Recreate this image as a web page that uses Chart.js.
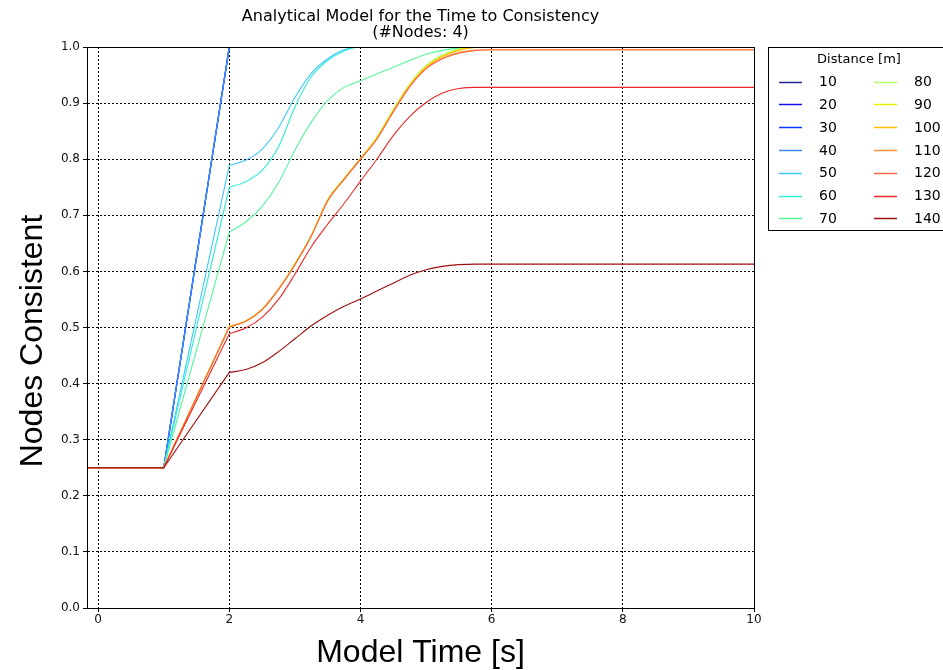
<!DOCTYPE html>
<html>
<head>
<meta charset="utf-8">
<script src="https://cdn.jsdelivr.net/npm/chart.js@4/dist/chart.umd.min.js"></script>
<style>
  html, body { margin: 0; padding: 0; background: #fff; }
  #wrap { width: 943px; height: 670px; }
</style>
</head>
<body>
<div id="wrap"><canvas id="myChart" width="943" height="670"></canvas></div>
<script>
'use strict';

// model time samples [s]
const times = [-0.2, 1, 2, 2.25, 2.5, 2.75, 3, 3.25, 3.5, 3.75, 4, 4.25, 4.5, 4.75, 5, 5.25, 5.5, 5.75, 6, 10];

// distance labels [m]
const distances = ['10', '20', '30', '40', '50', '60', '70', '80', '90', '100', '110', '120', '130', '140'];

// fraction of nodes consistent, one array per distance
const d10 = [0.25, 0.25, 1, 1, 1, 1, 1, 1, 1, 1, 1, 1, 1, 1, 1, 1, 1, 1, 1, 1];
const d20 = [0.25, 0.25, 1, 1, 1, 1, 1, 1, 1, 1, 1, 1, 1, 1, 1, 1, 1, 1, 1, 1];
const d30 = [0.25, 0.25, 1, 1, 1, 1, 1, 1, 1, 1, 1, 1, 1, 1, 1, 1, 1, 1, 1, 1];
const d40 = [0.25, 0.25, 1, 1, 1, 1, 1, 1, 1, 1, 1, 1, 1, 1, 1, 1, 1, 1, 1, 1];
const d50 = [0.25, 0.25, 0.789, 0.798, 0.818, 0.856, 0.910, 0.953, 0.979, 0.995, 1, 1, 1, 1, 1, 1, 1, 1, 1, 1];
const d60 = [0.25, 0.25, 0.750, 0.760, 0.780, 0.822, 0.893, 0.947, 0.976, 0.993, 1, 1, 1, 1, 1, 1, 1, 1, 1, 1];
const d70 = [0.25, 0.25, 0.670, 0.688, 0.716, 0.758, 0.816, 0.866, 0.905, 0.928, 0.940, 0.952, 0.964, 0.976, 0.987, 0.994, 0.998, 1, 1, 1];
const d80 = [0.25, 0.25, 0.502, 0.512, 0.533, 0.569, 0.614, 0.665, 0.728, 0.766, 0.802, 0.840, 0.889, 0.934, 0.967, 0.986, 0.997, 1, 1, 1];
const d90 = [0.25, 0.25, 0.502, 0.511, 0.532, 0.568, 0.613, 0.664, 0.727, 0.765, 0.801, 0.838, 0.887, 0.932, 0.965, 0.984, 0.995, 1, 1, 1];
const d100 = [0.25, 0.25, 0.502, 0.511, 0.532, 0.568, 0.612, 0.663, 0.726, 0.764, 0.800, 0.837, 0.886, 0.931, 0.964, 0.983, 0.994, 0.999, 1, 1];
const d110 = [0.25, 0.25, 0.501, 0.511, 0.532, 0.568, 0.612, 0.663, 0.726, 0.764, 0.800, 0.836, 0.885, 0.930, 0.962, 0.980, 0.990, 0.994, 0.995, 0.995];
const d120 = [0.25, 0.25, 0.501, 0.511, 0.532, 0.568, 0.612, 0.663, 0.726, 0.764, 0.800, 0.836, 0.884, 0.929, 0.961, 0.979, 0.989, 0.994, 0.995, 0.995];
const d130 = [0.25, 0.25, 0.489, 0.499, 0.518, 0.550, 0.595, 0.644, 0.684, 0.721, 0.761, 0.800, 0.842, 0.876, 0.901, 0.918, 0.926, 0.928, 0.928, 0.928];
const d140 = [0.25, 0.25, 0.420, 0.425, 0.437, 0.457, 0.480, 0.503, 0.522, 0.538, 0.551, 0.565, 0.579, 0.593, 0.603, 0.609, 0.612, 0.613, 0.613, 0.613];

const seriesValues = [d10, d20, d30, d40, d50, d60, d70, d80, d90, d100, d110, d120, d130, d140];

// tick values
const xTicks = [0, 2, 4, 6, 8, 10];
const yTicks = [0, 0.1, 0.2, 0.3, 0.4, 0.5, 0.6, 0.7, 0.8, 0.9, 1.0];

// jet-like colours
const lineColors = ['#23239a', '#1414ee', '#0a34ff', '#3c8cff', '#3cc8ff', '#30ecd8', '#55f59a',
  '#b0ff6a', '#e8f000', '#ffbe00', '#ff9040', '#ff6a40', '#e82a2a', '#a01010'];

const tickFont = { family: 'DejaVu Sans', size: 12 };

// index where the ramp ends and the smooth part starts (t = 2 s)
const rampEnd = 2;

//build datasets: straight ramp, then smooth curve
function buildDatasets() {
  let sets = [];
  for (let i = 0; i < distances.length; i++) {
    let ramp = [];
    let curve = [];
    for (let j = 0; j < times.length; j++) {
      let p = { x: times[j], y: seriesValues[i][j] };
      if (j <= rampEnd) ramp.push(p);
      if (j >= rampEnd) curve.push(p);
    }
    let width = i === 3 ? 1.6 : 1.1;
    sets.push({
      label: distances[i],
      data: ramp,
      borderColor: lineColors[i],
      borderWidth: width,
      pointRadius: 0,
      tension: 0,
      order: distances.length - i
    });
    sets.push({
      label: distances[i],
      data: curve,
      borderColor: lineColors[i],
      borderWidth: width,
      pointRadius: 0,
      cubicInterpolationMode: 'monotone',
      order: distances.length - i
    });
  }
  return sets;
}

//frame, titles and legend
const decorPlugin = {
  id: 'decor',
  afterDatasetsDraw(chart) {
    const ctx = chart.ctx;
    const a = chart.chartArea;
    ctx.save();
    ctx.strokeStyle = '#000';
    ctx.lineWidth = 1;
    ctx.strokeRect(Math.round(a.left) + 0.5, Math.round(a.top) + 0.5,
      Math.round(a.right - a.left), Math.round(a.bottom - a.top));
    ctx.restore();
  },
  afterDraw(chart) {
    const ctx = chart.ctx;
    const a = chart.chartArea;
    const cx = (a.left + a.right) / 2;
    ctx.save();
    ctx.fillStyle = '#000';
    ctx.textAlign = 'center';
    ctx.textBaseline = 'middle';
    ctx.font = '16px "DejaVu Sans"';
    ctx.fillText('Analytical Model for the Time to Consistency', cx, 17);
    ctx.fillText('(#Nodes: 4)', cx, 33);

    ctx.font = '32px "Liberation Sans"';
    ctx.fillText('Model Time [s]', cx, 653);
    ctx.translate(33, 341);
    ctx.rotate(-Math.PI / 2);
    ctx.fillText('Nodes Consistent', 0, 0);
    ctx.restore();

    // legend box
    ctx.save();
    ctx.fillStyle = '#fff';
    ctx.fillRect(768.5, 47.5, 180, 183);
    ctx.strokeStyle = '#000';
    ctx.lineWidth = 1;
    ctx.strokeRect(768.5, 47.5, 180, 183);
    ctx.fillStyle = '#000';
    ctx.textBaseline = 'middle';
    ctx.textAlign = 'center';
    ctx.font = '13px "DejaVu Sans"';
    ctx.fillText('Distance [m]', 859, 60);
    ctx.textAlign = 'left';
    ctx.font = '14px "DejaVu Sans"';
    for (let i = 0; i < distances.length; i++) {
      let col = Math.floor(i / 7);
      let row = i % 7;
      let y = 81.5 + row * 22.8;
      let lx = col === 0 ? 779 : 874;
      ctx.strokeStyle = lineColors[i];
      ctx.lineWidth = 1.5;
      ctx.beginPath();
      ctx.moveTo(lx, Math.round(y) + 0.5);
      ctx.lineTo(lx + 23, Math.round(y) + 0.5);
      ctx.stroke();
      ctx.fillStyle = '#000';
      ctx.fillText(distances[i], lx + 40, y + 1);
    }
    ctx.restore();
  }
};

const config = {
  type: 'line',
  data: { datasets: buildDatasets() },
  options: {
    responsive: false,
    animation: false,
    layout: { padding: { top: 47, right: 189, left: 0, bottom: 0 } },
    plugins: {
      legend: { display: false },
      title: { display: false },
      tooltip: { enabled: false }
    },
    scales: {
      x: {
        type: 'linear',
        min: -0.17,
        max: 10,
        afterBuildTicks: (scale) => { scale.ticks = xTicks.map(v => ({ value: v })); },
        afterFit: (scale) => { scale.height = 62; },
        grid: { color: '#000', lineWidth: 1, drawTicks: true, tickLength: 4, tickColor: '#000' },
        border: { display: true, color: '#000', dash: [2, 2] },
        ticks: { color: '#111', font: tickFont, padding: 1, maxRotation: 0 }
      },
      y: {
        type: 'linear',
        min: 0,
        max: 1,
        afterBuildTicks: (scale) => { scale.ticks = yTicks.map(v => ({ value: v })); },
        afterFit: (scale) => { scale.width = 87; },
        grid: { color: '#000', lineWidth: 1, drawTicks: true, tickLength: 4, tickColor: '#000' },
        border: { display: true, color: '#000', dash: [2, 2] },
        ticks: { color: '#111', font: tickFont, padding: 3, callback: (v) => Number(v).toFixed(1) }
      }
    }
  },
  plugins: [decorPlugin]
};

const myChart = new Chart(document.getElementById('myChart'), config);
</script>
</body>
</html>
